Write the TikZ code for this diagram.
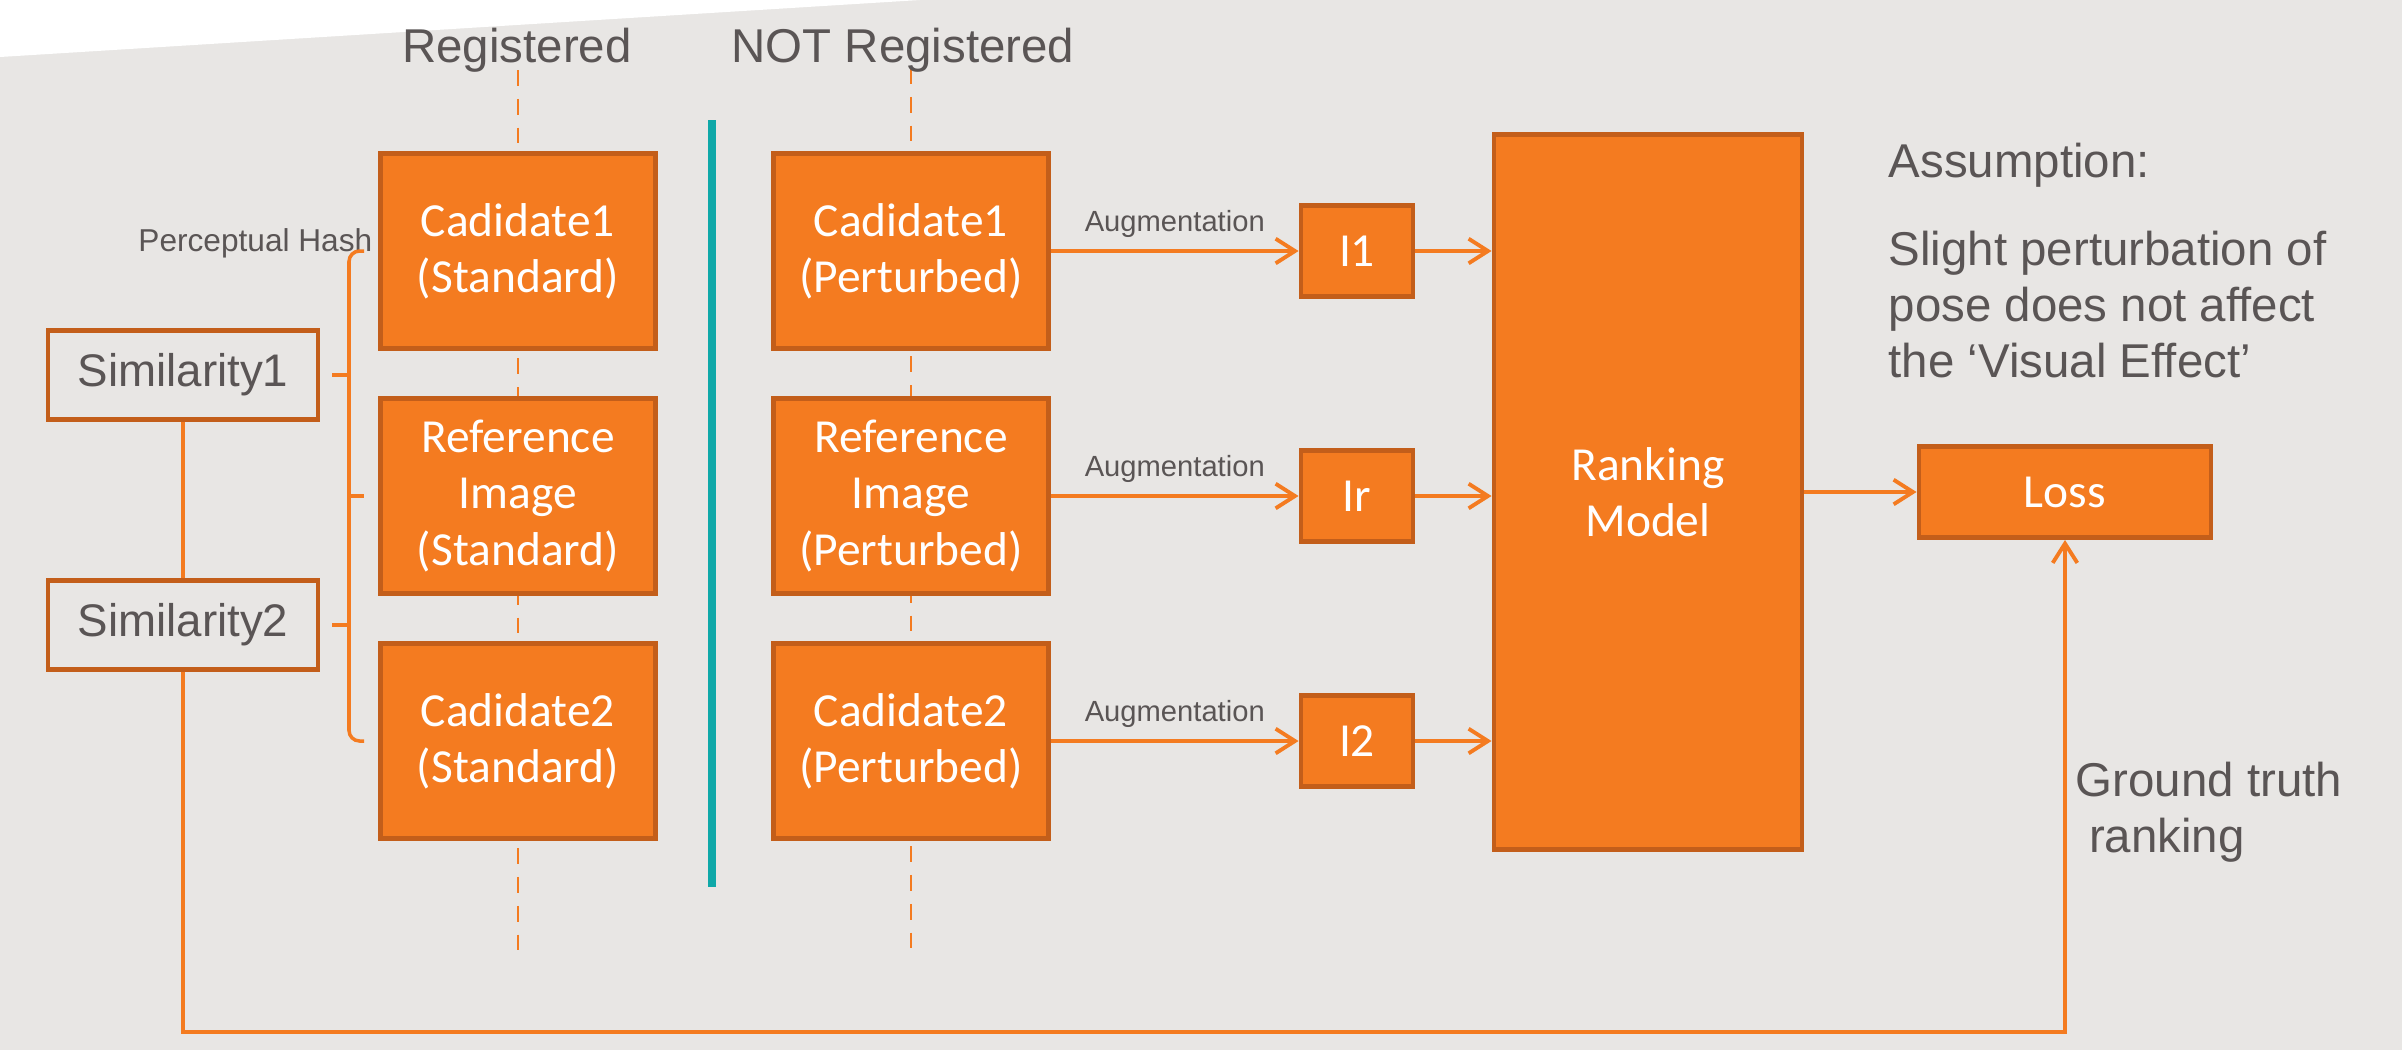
\documentclass[tikz,border=0pt]{standalone}
\usepackage{fontspec}
\setmainfont{Liberation Sans}
\newfontfamily\boxfont{Carlito}
\usetikzlibrary{positioning}
\usetikzlibrary{backgrounds}
\usetikzlibrary{arrows.meta}
\definecolor{boxfill}{HTML}{F47B20}
\definecolor{boxline}{HTML}{C35E1A}
\definecolor{bggray}{HTML}{E8E6E4}
\definecolor{textgray}{HTML}{5A5555}
\definecolor{sepline}{HTML}{0FA8A8}
\tikzset{
	imgbox/.style={draw=boxline, line width=1.4pt, fill=boxfill, text=white, align=center, inner sep=2pt, minimum width=2.75cm, minimum height=1.95cm, font=\boxfont\fontsize{13.5}{16}\selectfont},
	augbox/.style={imgbox, minimum width=1.12cm, minimum height=0.91cm},
	simbox/.style={draw=boxline, line width=1.3pt, fill=bggray, text=textgray, minimum width=2.70cm, minimum height=0.89cm, font=\fontsize{13}{15}\selectfont},
	% gray texts
	note/.style={text=textgray, inner sep=0pt, font=\fontsize{13.5}{16}\selectfont},
	smallnote/.style={text=textgray, font=\fontsize{8.3}{10}\selectfont},
	conn/.style={boxfill, line width=1pt},
	dashline/.style={boxfill, line width=0.75pt, dash pattern=on 4.5pt off 3.7pt},
}

\begin{document}
\begin{tikzpicture}[node distance=2.45cm, >={Straight Barb[length=5.5pt,width=7pt,line width=1.1pt]}]
	\useasboundingbox (0,0) rectangle (24.02,-10.5);
	
	% registered
	\node (std1) [imgbox] at (5.18,-2.51) {Cadidate1\\(Standard)};
	\node (std2) [imgbox, below of=std1] {Reference\\Image\\(Standard)};
	\node (std3) [imgbox, below of=std2] {Cadidate2\\(Standard)};
	
	% not registered
	\node (pert1) [imgbox, right of=std1, xshift=1.48cm] {Cadidate1\\(Perturbed)};
	\node (pert2) [imgbox, below of=pert1] {Reference\\Image\\(Perturbed)};
	\node (pert3) [imgbox, below of=pert2] {Cadidate2\\(Perturbed)};
	
	\node (i1) [augbox, right of=pert1, xshift=2.01cm] {I1};
	\node (ir) [augbox, below of=i1] {Ir};
	\node (i2) [augbox, below of=ir] {I2};
	
	\node (rank) [imgbox, right of=ir, xshift=0.46cm, yshift=0.04cm, minimum width=3.08cm, minimum height=7.15cm] {Ranking\\Model};
	\node (loss) [imgbox, right of=rank, xshift=1.72cm, minimum width=2.92cm, minimum height=0.91cm] {Loss};
	
	\node (sim1) [simbox] at (1.83,-3.75) {Similarity1};
	\node (sim2) [simbox, below of=sim1, yshift=-0.05cm] {Similarity2};
	
	\node (reg) [note, anchor=base] at (5.17,-0.62) {Registered};
	\node (notreg) [note, anchor=base] at (9.03,-0.62) {NOT Registered};
	\node (phash) [smallnote, anchor=base east, inner sep=0pt, font=\fontsize{9}{11}\selectfont] at (3.73,-2.51) {Perceptual Hash};
	
	\node (asm) [note, anchor=base west] at (18.88,-1.775) {Assumption:};
	\node (asmtext) [note, anchor=north west, align=left] at (18.88,-2.30) {Slight perturbation of\\pose does not affect\\the ‘Visual Effect’};
	\node (gt) [note, anchor=north west, align=left] at (20.75,-7.61) {Ground truth\\\hspace{0.28em}ranking};
	
	\coordinate (brk) at (3.49,0);
	\coordinate (fb) at (0,-10.32);
	
	\begin{scope}[conn, ->]
		\draw (pert1) -- (i1) node [smallnote, midway, above] {Augmentation};
		\draw (pert2) -- (ir) node [smallnote, midway, above] {Augmentation};
		\draw (pert3) -- (i2) node [smallnote, midway, above] {Augmentation};
		
		\draw (i1) -- (i1 -| rank.west);
		\draw (ir) -- (ir -| rank.west);
		\draw (i2) -- (i2 -| rank.west);
		
		\draw (rank) -- (loss);
		\draw (sim2.south) |- (fb -| loss.south) -- (loss.south);
	\end{scope}
	
	\begin{scope}[conn]
		\draw (sim1) -- (sim2);
		\draw[rounded corners=3pt] ([xshift=-0.14cm]std1.west) -- (brk |- std1.west) -- (brk |- std3.west) -- ([xshift=-0.14cm]std3.west);
		\draw (brk |- std2.west) -- ([xshift=-0.14cm]std2.west);
		\draw ([xshift=0.12cm]sim1.east) -- (brk |- sim1.east);
		\draw ([xshift=0.12cm]sim2.east) -- (brk |- sim2.east);
	\end{scope}
	
	\begin{scope}[on background layer]
		\fill[bggray] (0,0) rectangle (24.02,-10.5);
		\fill[white] (0,0) -- (9.2,0) -- (0,-0.57) -- cycle;
		\draw[dashline] (std1.center |- 0,-0.70) -- (std1.center |- 0,-9.55);
		\draw[dashline] (pert1.center |- 0,-0.68) -- (pert1.center |- 0,-9.52);
		\draw[sepline, line width=2pt] (7.12,-1.20) -- (7.12,-8.87);
	\end{scope}
	
\end{tikzpicture}
\end{document}
